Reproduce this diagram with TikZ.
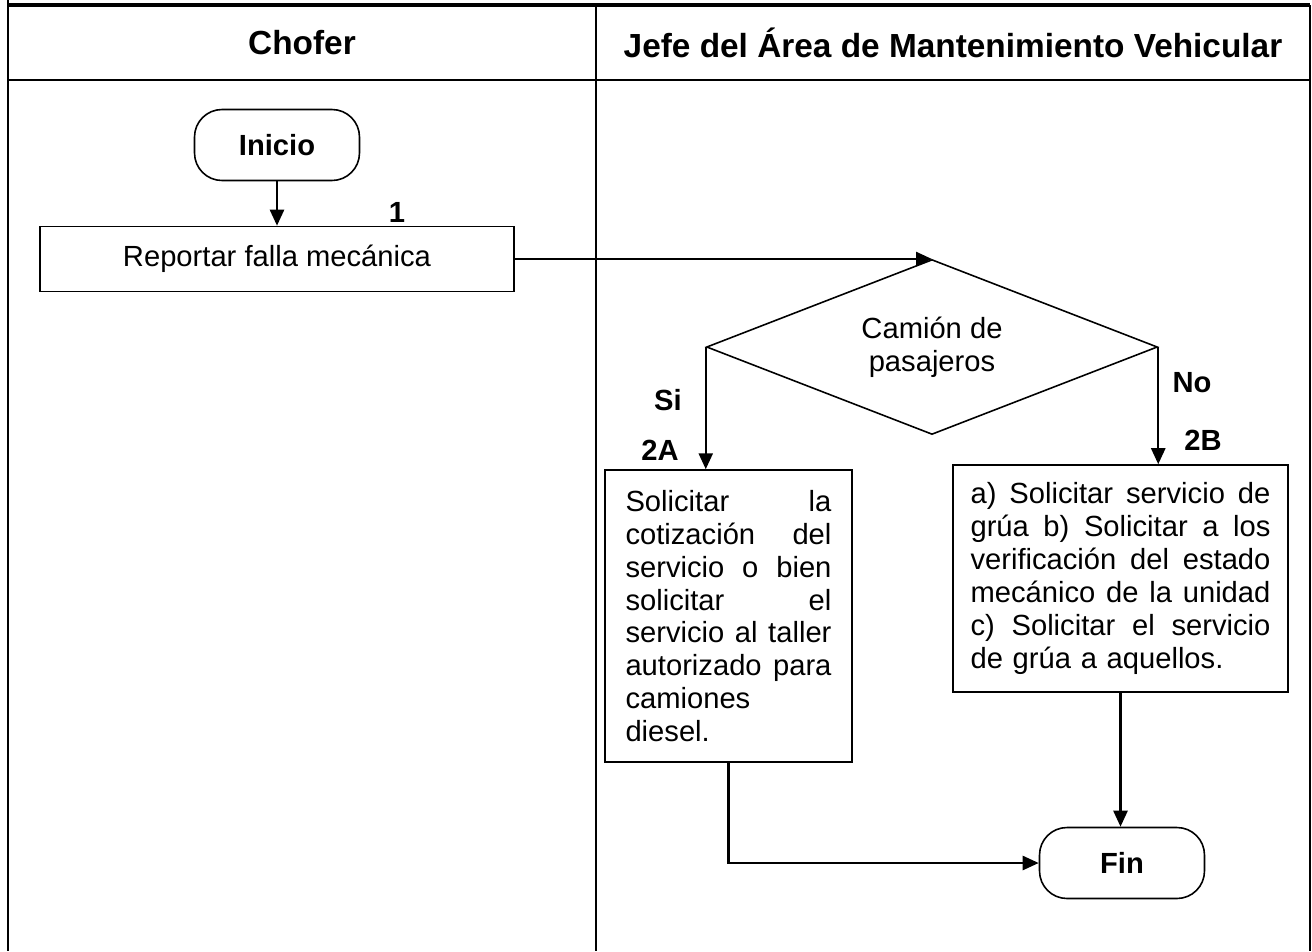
\documentclass[tikz,border=0pt]{standalone}
\usepackage{fontspec}
\setmainfont{Liberation Sans}
\usetikzlibrary{shapes.geometric}
\usetikzlibrary{arrows.meta}
\usetikzlibrary{positioning}

\begin{document}
\begin{tikzpicture}[x=0.02cm,y=-0.02cm,
				font=\fontsize{16.6}{18.7}\selectfont,
				term node/.style={draw,line width=0.9pt,rounded corners=0.55cm,
					minimum width=3.3cm,minimum height=1.42cm,
					font=\fontsize{16.6}{18.7}\selectfont\bfseries},
				proc node/.style={draw,line width=0.9pt,inner sep=0pt},
				dec node/.style={diamond,aspect=2.5,draw,line width=0.9pt,inner sep=0pt,
					minimum width=9.02cm,minimum height=3.5cm,align=center},
				lane head/.style={font=\fontsize{19}{21}\selectfont\bfseries},
				tag/.style={font=\fontsize{16.6}{18.7}\selectfont\bfseries},
				flow/.style={-{Triangle[length=0.32cm,width=0.28cm]},line width=1.4pt}]
				
				\useasboundingbox (0,0) rectangle (1312,951);
				
				% frame and lanes
				\draw[line width=1.7pt] (8,0) -- (8,951);
				\draw[line width=2.3pt] (8,5) -- (1310,5);
				\draw[line width=1.1pt] (1310,5) -- (1310,951);
				\draw[line width=1.1pt] (8,80) -- (1310,80);
				\draw[line width=0.8pt] (596,5) -- (596,951);
				
				\node[lane head] (chofer) at (302,43) {Chofer};
				\node[lane head] (jefe) at (953,43) {Jefe del Área de Mantenimiento Vehicular};
				
				\node[term node] (inicio) at (277,145) {Inicio};
				\node[proc node,minimum width=9.48cm,minimum height=1.3cm] (rep) at (277,259) {Reportar falla mecánica};
				\node[dec node] (dec) at (932,347) {Camión de\\pasajeros};
				\node[proc node,text width=4.12cm,inner xsep=0.41cm,minimum height=5.84cm,align=left] (solA) at (728.5,616)
				{Solicitar \hfill la\\
					cotización \hfill del\\
					servicio \hfill o \hfill bien\\
					solicitar \hfill el\\
					servicio \hfill al \hfill taller\\
					autorizado \hfill para\\
					camiones\\
					diesel.};
				\node[proc node,text width=6cm,inner xsep=0.35cm,minimum height=4.54cm,align=left] (solB) at (1120.5,578.5)
				{a) \hfill Solicitar \hfill servicio \hfill de\\
					grúa \hfill b) \hfill Solicitar \hfill a \hfill los\\
					verificación \hfill del \hfill estado\\
					mecánico \hfill de \hfill la \hfill unidad\\
					c) \hfill Solicitar \hfill el \hfill servicio\\
					de grúa a aquellos.};
				\node[term node] (fin) at (1122,863) {Fin};
				
				% step numbers and answers
				\node[tag] (n1) at (397,212) {1};
				\node[tag] (si) at (668,400) {Si};
				\node[tag] (n2a) at (660,450) {2A};
				\node[tag] (no) at (1192,383) {No};
				\node[tag] (n2b) at (1203,440) {2B};
				
				\draw[flow] (inicio) -- (inicio |- rep.north);
				\draw[flow] (rep.east) -- (rep.east -| dec.north);
				\draw[flow] (dec.west) -- (dec.west |- solA.north);
				\draw[flow] (dec.east) -- (dec.east |- solB.north);
				\draw[flow] (solB.south) -- (solB.south |- fin.north);
				\draw[flow] (solA.south) |- (fin.west);
			\end{tikzpicture}
\end{document}
